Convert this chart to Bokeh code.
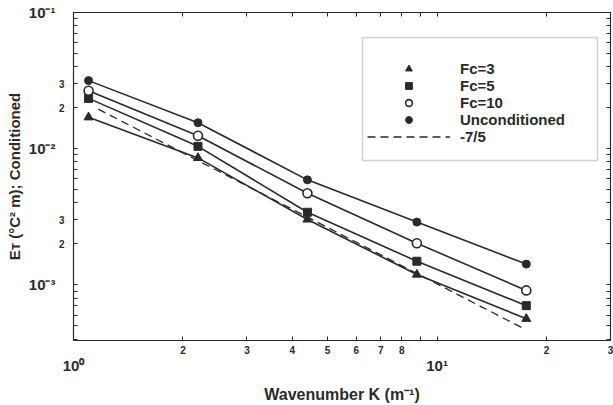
from bokeh.plotting import figure
from bokeh.models import (FixedTicker, CustomJSTickFormatter, LogAxis,
                          Legend, LegendItem, BoxAnnotation, Range1d)
from bokeh.embed import file_html
from bokeh.resources import INLINE

# ---- data ----
wavenumber = [1.1, 2.2, 4.4, 8.8, 17.6]
fc3 = [0.0170, 0.00855, 0.00302, 0.00119, 0.000563]
fc5 = [0.0234, 0.0104, 0.00341, 0.00149, 0.000703]
fc10 = [0.0266, 0.01244, 0.00470, 0.00202, 0.00091]
uncond = [0.0316, 0.0155, 0.00590, 0.00289, 0.00142]
slope_k = [1.17, 17.5]
slope_e = [0.0195, 0.00047]

series_labels = ["Fc=3", "Fc=5", "Fc=10", "Unconditioned", "-7/5"]

x_ticks = [1, 2, 3, 4, 5, 6, 7, 8, 9, 10, 20, 30]
x_tick_labels = ["", "2", "3", "4", "5", "6", "7", "8", "", "", "2", "3"]
y_ticks = [4e-4, 5e-4, 6e-4, 7e-4, 8e-4, 9e-4,
           1e-3, 2e-3, 3e-3, 4e-3, 5e-3, 6e-3, 7e-3, 8e-3, 9e-3,
           1e-2, 2e-2, 3e-2, 4e-2, 5e-2, 6e-2, 7e-2, 8e-2, 9e-2, 1e-1]
y_tick_labels = ["", "", "", "", "", "",
                 "", "2", "3", "", "", "", "", "", "",
                 "", "2", "3", "", "", "", "", "", "", ""]
x_decades = [1, 10]
x_decade_labels = ["10\u2070", "10\u00b9"]
y_decades = [1e-3, 1e-2, 1e-1]
y_decade_labels = ["10\u207b\u00b3", "10\u207b\u00b2", "10\u207b\u00b9"]

x_title = "Wavenumber K (m\u207b\u00b9)"
y_title = "E\u1d1b (\u00b0C\u00b2 m); Conditioned"

FONT = "Liberation Sans"
INK = "#2a2a2a"

p = figure(width=613, height=405, x_axis_type="log", y_axis_type="log",
           x_range=Range1d(1, 30), y_range=Range1d(3.9e-4, 0.1),
           output_backend="svg", toolbar_location=None,
           min_border_left=73, min_border_right=3, min_border_top=12,
           min_border_bottom=55, background_fill_color="white")
p.xgrid.visible = False
p.ygrid.visible = False
p.outline_line_color = INK
p.outline_line_width = 1.2

fmt_js = "const i = tv.findIndex(t => Math.abs(t - tick) / tick < 1e-6); return i >= 0 ? tl[i] : '';"

xa = p.xaxis[0]
xa.ticker = FixedTicker(ticks=x_ticks)
xa.formatter = CustomJSTickFormatter(args=dict(tv=x_ticks, tl=x_tick_labels), code=fmt_js)
ya = p.yaxis[0]
ya.ticker = FixedTicker(ticks=y_ticks)
ya.formatter = CustomJSTickFormatter(args=dict(tv=y_ticks, tl=y_tick_labels), code=fmt_js)

for ax in (xa, ya):
    ax.major_tick_in = 4
    ax.major_tick_out = 0
    ax.minor_tick_in = 0
    ax.minor_tick_out = 0
    ax.axis_line_color = INK
    ax.major_tick_line_color = INK
    ax.major_label_text_font = FONT
    ax.major_label_text_font_style = "bold"
    ax.major_label_text_font_size = "10px"
    ax.major_label_text_color = INK
xa.major_label_standoff = 5
ya.major_label_standoff = 9

# outer axes carrying the decade labels and the axis titles
xa2 = LogAxis(ticker=FixedTicker(ticks=x_decades),
              formatter=CustomJSTickFormatter(args=dict(tv=x_decades, tl=x_decade_labels), code=fmt_js),
              axis_label=x_title)
ya2 = LogAxis(ticker=FixedTicker(ticks=y_decades),
              formatter=CustomJSTickFormatter(args=dict(tv=y_decades, tl=y_decade_labels), code=fmt_js),
              axis_label=y_title)
for ax in (xa2, ya2):
    ax.axis_line_alpha = 0
    ax.major_tick_in = 0
    ax.major_tick_out = 0
    ax.minor_tick_in = 0
    ax.minor_tick_out = 0
    ax.major_label_standoff = 0
    ax.major_label_text_font = FONT
    ax.major_label_text_font_style = "bold"
    ax.major_label_text_font_size = "15px"
    ax.major_label_text_color = INK
    ax.axis_label_text_font = FONT
    ax.axis_label_text_font_style = "bold"
    ax.axis_label_text_color = INK
xa2.axis_label_text_font_size = "16px"
xa2.axis_label_standoff = 9
ya2.axis_label_text_font_size = "15px"
ya2.axis_label_standoff = 3
p.add_layout(xa2, "below")
p.add_layout(ya2, "left")

# mirrored tick axes (no labels)
empty = "return '';"
ra = LogAxis(ticker=FixedTicker(ticks=y_ticks), formatter=CustomJSTickFormatter(code=empty))
ta = LogAxis(ticker=FixedTicker(ticks=x_ticks), formatter=CustomJSTickFormatter(code=empty))
for ax in (ra, ta):
    ax.major_tick_in = 4
    ax.major_tick_out = 0
    ax.minor_tick_in = 0
    ax.minor_tick_out = 0
    ax.major_label_standoff = 0
    ax.major_label_text_font_size = "1px"
    ax.axis_line_color = INK
    ax.major_tick_line_color = INK
p.add_layout(ra, "right")
p.add_layout(ta, "above")

# data
LW = 1.6
rs = p.line(slope_k, slope_e, line_color=INK, line_width=1.3, line_dash="8 5")
for ys in (fc3, fc5, fc10, uncond):
    p.line(wavenumber, ys, line_color=INK, line_width=LW)
r3 = p.scatter(wavenumber, fc3, marker="triangle", size=9, fill_color=INK, line_color=INK)
r5 = p.scatter(wavenumber, fc5, marker="square", size=8, fill_color=INK, line_color=INK)
r10 = p.scatter(wavenumber, fc10, marker="circle", size=9, fill_color="white", line_color=INK, line_width=1.6)
ru = p.scatter(wavenumber, uncond, marker="circle", size=8, fill_color=INK, line_color=INK)

# legend
items = [LegendItem(label=l, renderers=[r]) for l, r in zip(series_labels, [r3, r5, r10, ru, rs])]
leg = Legend(items=items, location=(289, 190), glyph_width=83, glyph_height=17,
             label_height=16, spacing=0, padding=5, label_standoff=10,
             label_text_font=FONT, label_text_font_style="bold", label_text_font_size="15px",
             label_text_color=INK, border_line_alpha=0, background_fill_alpha=0)
p.add_layout(leg)
p.add_layout(BoxAnnotation(left=362, right=597, top=37, bottom=160,
                           left_units="canvas", right_units="canvas",
                           top_units="canvas", bottom_units="canvas",
                           fill_alpha=0, line_color="#666", line_width=1.5))

open("out.html", "w").write(file_html(p, INLINE))
